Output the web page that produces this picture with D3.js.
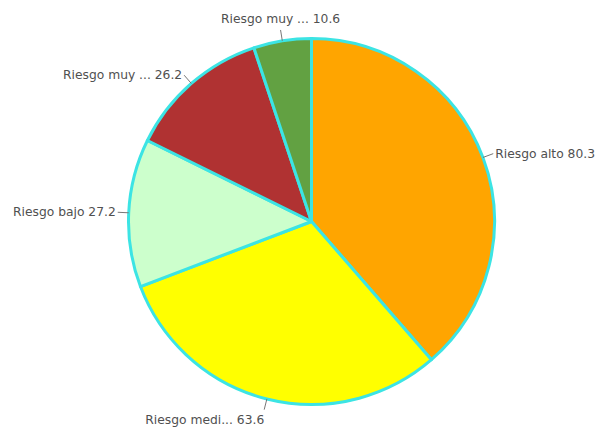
<!DOCTYPE html>
<html><head><meta charset="utf-8">
<script src="https://cdn.jsdelivr.net/npm/d3@7"></script>
<style>body{margin:0;background:#fff}svg{display:block}</style>
</head><body>
<svg id="c" width="595" height="430"></svg>
<script>
const categories = ["Riesgo alto", "Riesgo medi...", "Riesgo bajo", "Riesgo muy ...", "Riesgo muy ..."];
const values = [80.3, 63.6, 27.2, 26.2, 10.6];
const colors = ["#FFA500", "#FFFF00", "#CCFFCC", "#B03232", "#62A142"];

const svg = d3.select("#c");
const cx = 311.5, cy = 221.5, r = 183;
const g = svg.append("g").attr("transform", `translate(${cx},${cy})`);
const data = categories.map((c, i) => ({c, v: values[i], col: colors[i]}));
const pie = d3.pie().value(d => d.v).sort(null);
const arc = d3.arc().innerRadius(0).outerRadius(r);
const arcs = pie(data);

g.selectAll("path.s").data(arcs).join("path")
  .attr("class", "s")
  .attr("d", arc)
  .attr("fill", d => d.data.col)
  .attr("stroke", "#3CE4E4")
  .attr("stroke-width", 3)
  .attr("stroke-linejoin", "round");

arcs.forEach(a => {
  const m = (a.startAngle + a.endAngle) / 2;
  const p1 = [r * Math.sin(m), -r * Math.cos(m)];
  const L = r + 11;
  const p2 = [L * Math.sin(m), -L * Math.cos(m)];
  g.append("line").attr("x1", p1[0]).attr("y1", p1[1]).attr("x2", p2[0]).attr("y2", p2[1])
    .attr("stroke", "#777").attr("stroke-width", 1);
  const deg = m * 180 / Math.PI;
  let anchor, tx, ty;
  if (deg < 20 || deg > 340) { anchor = "middle"; tx = p2[0]; ty = p2[1] - 7; }
  else if (deg > 160 && deg < 200) { anchor = "end"; tx = p2[0]; ty = p2[1] + 14; }
  else if (deg < 180) { anchor = "start"; tx = p2[0] + 2; ty = p2[1] + 4; }
  else { anchor = "end"; tx = p2[0] - 2; ty = p2[1] + 4; }
  g.append("text").attr("x", tx).attr("y", ty).attr("text-anchor", anchor)
    .attr("font-family", "DejaVu Sans, sans-serif").attr("font-size", 12.3)
    .attr("fill", "#505050")
    .text(a.data.c + " " + a.data.v);
});
</script>
</body></html>
